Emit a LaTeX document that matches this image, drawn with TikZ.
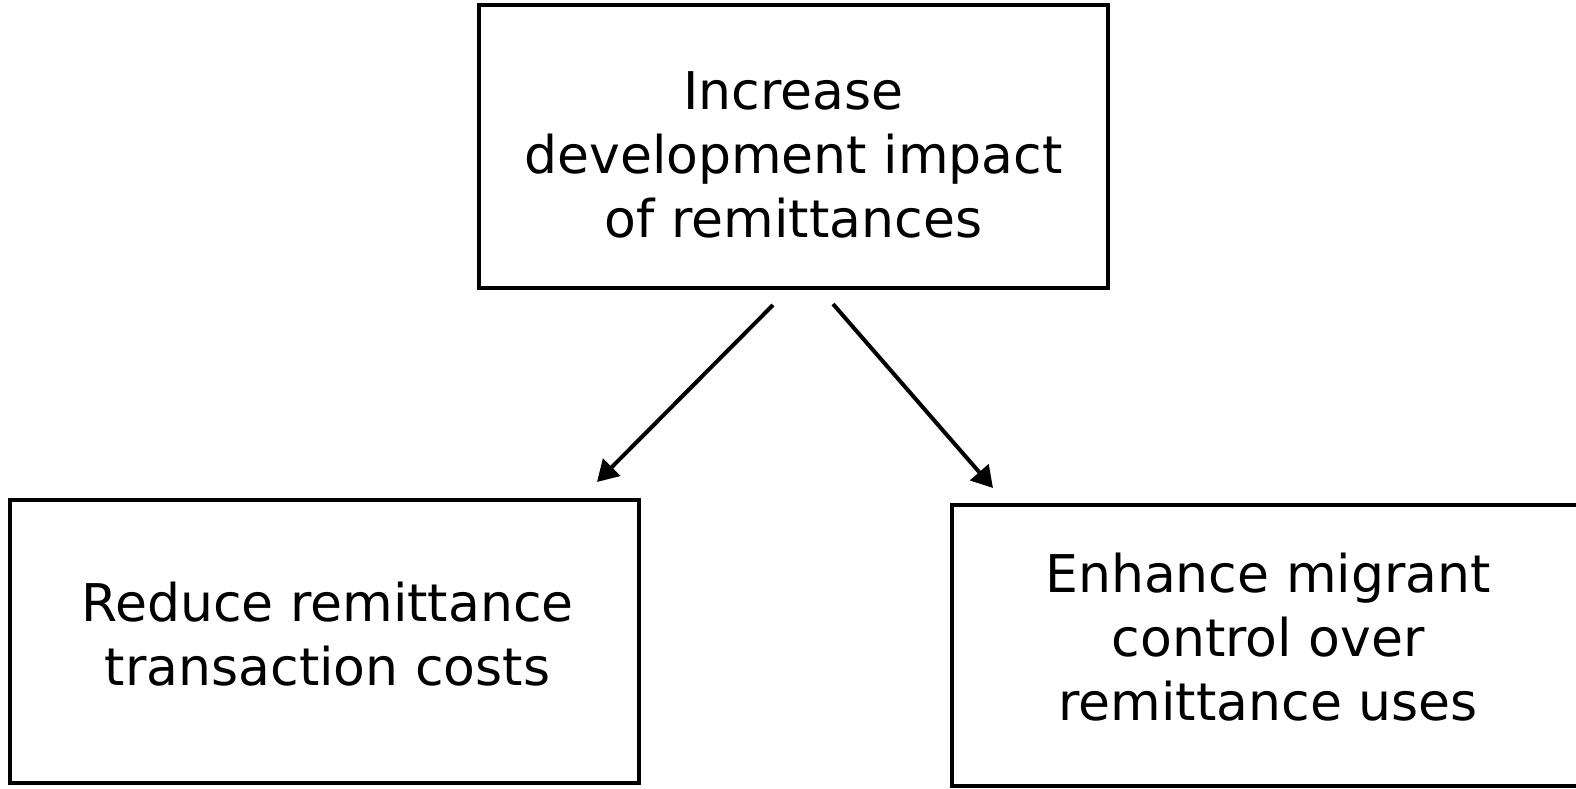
\documentclass[tikz,border=0pt]{standalone}
\usepackage{fontspec}
\setmainfont{DejaVu Sans}
\usetikzlibrary{arrows.meta}

\begin{document}
\begin{tikzpicture}[x=1pt, y=-1pt,
    every node/.style={font=\fontsize{52}{64}\selectfont},
    goalbox/.style={draw=black, line width=4pt, inner sep=0pt},
    goaltext/.style={align=center, inner sep=0pt},
    link/.style={line width=4pt, -{Triangle[length=21pt, width=24pt]}}]
    \useasboundingbox (0,0) rectangle (1576,788);

    % Main goal
    \node[goalbox, minimum width=629pt, minimum height=283pt] (goal) at (793.5,146.5) {};
    \node[goaltext] (goaltxt) at ([yshift=-8pt]goal.center)
    {Increase\\development impact\\of remittances};

    % Sub goals
    \node[goalbox, minimum width=629pt, minimum height=283pt] (costs) at (324.5,641.5) {};
    \node[goaltext] (coststxt) at ([xshift=3pt, yshift=7pt]costs.center)
    {Reduce remittance\\transaction costs};
    \node[goalbox, minimum width=660pt, minimum height=281pt] (uses) at (1282,645.5) {};
    \node[goaltext] (usestxt) at ([xshift=-14pt, yshift=8pt]uses.center)
    {Enhance migrant\\control over\\remittance uses};

    % Arrows (free ends, they stop short of the boxes)
    \coordinate (lfrom) at (773,305);
    \coordinate (lto) at (597,482);
    \coordinate (rfrom) at (833,304);
    \coordinate (rto) at (993,488);
    \draw[link] (lfrom) -- (lto);
    \draw[link] (rfrom) -- (rto);
\end{tikzpicture}
\end{document}
